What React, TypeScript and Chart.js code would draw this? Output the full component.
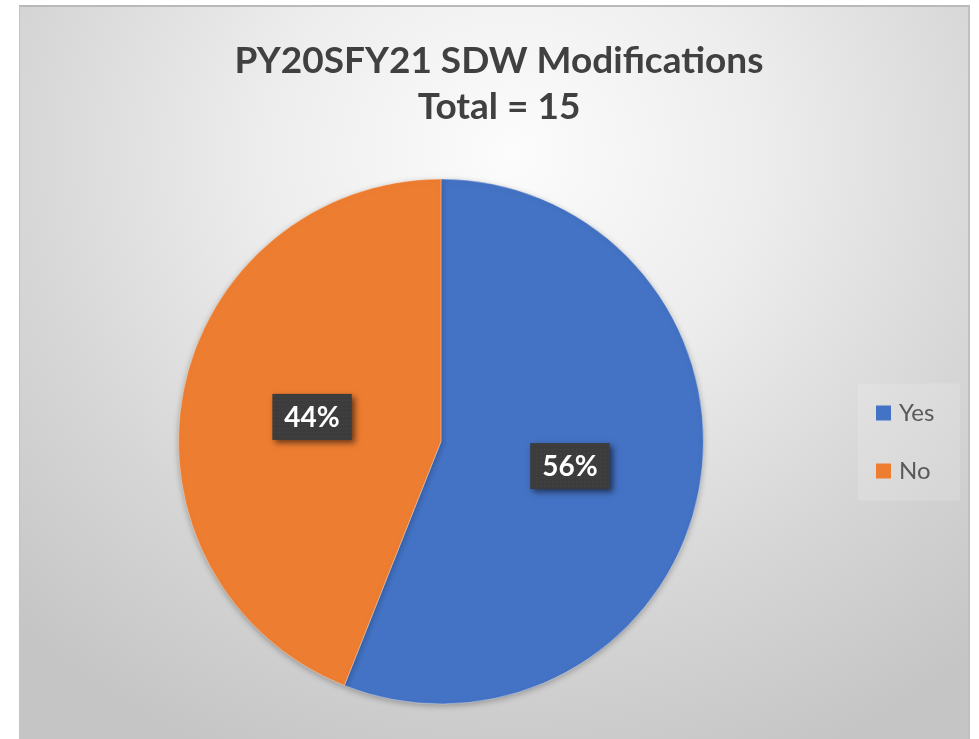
import React, { useEffect, useRef } from "react";
import { Chart, registerables } from "chart.js";

Chart.register(...registerables);

const titleLines = ["PY20SFY21 SDW Modifications", "Total = 15"];
const categories = ["Yes", "No"];
const values = [56, 44];
const colors = ["#4472C4", "#ED7D31"];

const FONT = "Lato, 'Open Sans', sans-serif";

export default function App() {
  const ref = useRef<HTMLCanvasElement>(null);

  useEffect(() => {
    document.body.style.margin = "0";
    const total = values.reduce((a, b) => a + b, 0);

    const titlePlugin = {
      id: "customTitle",
      afterDraw(chart: any) {
        const ctx = chart.ctx;
        ctx.save();
        ctx.font = `bold 37px ${FONT}`;
        ctx.fillStyle = "#404040";
        ctx.textAlign = "center";
        ctx.textBaseline = "middle";
        titleLines.forEach((t, i) => ctx.fillText(t, 480, 54 + i * 46));
        ctx.restore();
      },
    };

    const shadowPlugin = {
      id: "pieShadow",
      beforeDatasetsDraw(chart: any) {
        const ctx = chart.ctx;
        ctx.save();
        ctx.shadowColor = "rgba(0,0,0,0.28)";
        ctx.shadowBlur = 6;
        ctx.shadowOffsetY = 2;
      },
      afterDatasetsDraw(chart: any) {
        chart.ctx.restore();
      },
    };

    const labelPlugin = {
      id: "pctLabels",
      afterDatasetsDraw(chart: any) {
        const ctx = chart.ctx;
        const meta = chart.getDatasetMeta(0);
        meta.data.forEach((arc: any, i: number) => {
          const p = arc.tooltipPosition();
          const txt = Math.round((values[i] / total) * 100) + "%";
          ctx.save();
          ctx.font = `bold 28px ${FONT}`;
          const w = ctx.measureText(txt).width + 24;
          const h = 46;
          const x0 = p.x - w / 2;
          const y0 = p.y - h / 2;
          ctx.shadowColor = "rgba(0,0,0,0.55)";
          ctx.shadowBlur = 6;
          ctx.shadowOffsetX = 3;
          ctx.shadowOffsetY = 3;
          ctx.fillStyle = "#3c3c3c";
          ctx.fillRect(x0, y0, w, h);
          ctx.shadowColor = "transparent";
          ctx.fillStyle = "rgba(255,255,255,0.07)";
          for (let yy = y0 + 2; yy < y0 + h - 1; yy += 4) {
            for (let xx = x0 + 2; xx < x0 + w - 1; xx += 4) {
              ctx.fillRect(xx, yy, 1, 1);
            }
          }
          ctx.fillStyle = "#ffffff";
          ctx.textAlign = "center";
          ctx.textBaseline = "middle";
          ctx.fillText(txt, p.x, p.y + 1);
          ctx.restore();
        });
      },
    };

    const legendPlugin = {
      id: "customLegend",
      afterDraw(chart: any) {
        const ctx = chart.ctx;
        const ca = chart.chartArea;
        const cy = (ca.top + ca.bottom) / 2;
        ctx.save();
        ctx.fillStyle = "rgba(255,255,255,0.15)";
        ctx.fillRect(839, cy - 58, 102, 117);
        ctx.font = `24px ${FONT}`;
        ctx.textBaseline = "middle";
        ctx.textAlign = "left";
        categories.forEach((c, i) => {
          const y = cy - 29 + i * 58;
          ctx.fillStyle = colors[i];
          ctx.fillRect(857, y - 7, 15, 15);
          ctx.fillStyle = "#595959";
          ctx.fillText(c, 880, y + 1);
        });
        ctx.restore();
      },
    };

    const chart = new Chart(ref.current!, {
      type: "pie",
      data: {
        labels: categories,
        datasets: [
          {
            data: values,
            backgroundColor: colors,
            borderColor: "rgba(255,255,255,0.35)",
            borderWidth: 1,
          },
        ],
      },
      options: {
        animation: false,
        responsive: false,
        maintainAspectRatio: false,
        layout: { padding: { left: 159, right: 263, top: 171.5, bottom: 34.5 } },
        plugins: {
          legend: { display: false },
          title: { display: false },
          tooltip: { enabled: false },
        },
      },
      plugins: [shadowPlugin, labelPlugin, legendPlugin, titlePlugin],
    });
    return () => chart.destroy();
  }, []);

  return (
    <div style={{ position: "fixed", left: 0, top: 0, width: 979, height: 739, background: "#ffffff", overflow: "hidden" }}>
      <div
        style={{
          position: "absolute",
          left: 19,
          top: 5,
          width: 951,
          height: 734,
          borderTop: "2px solid #b9b9b9",
          borderLeft: "1px solid #c4c4c4",
          borderRight: "2px solid #c0c0c0",
          boxSizing: "border-box",
          background:
            "radial-gradient(ellipse 75% 90% at 52% 20%, #fcfcfc 0%, #ededed 35%, #d6d6d6 70%, #c5c5c5 100%)",
        }}
      >
        <canvas ref={ref} width={948} height={732} style={{ display: "block", position: "absolute", left: -1, top: 0 }} />
      </div>
    </div>
  );
}
